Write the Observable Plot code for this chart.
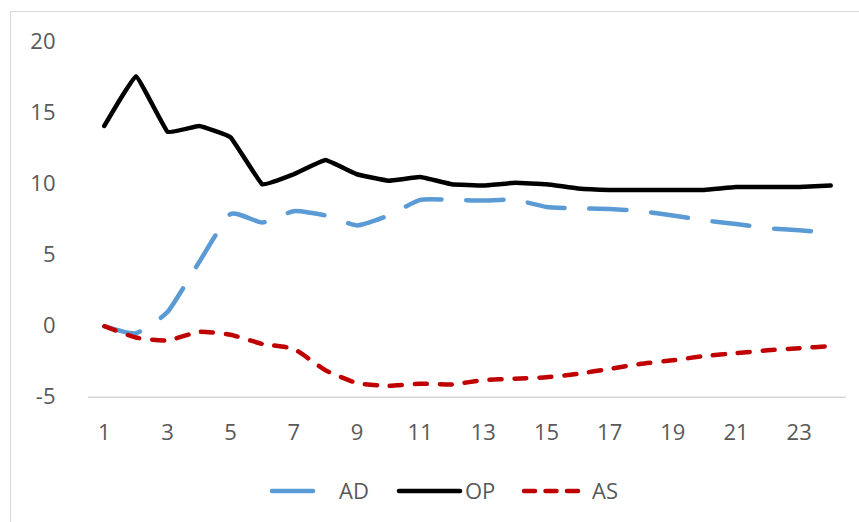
<!DOCTYPE html>
<html>
<head>
<meta charset="utf-8">
<script src="https://cdn.jsdelivr.net/npm/d3@7"></script>
<script src="https://cdn.jsdelivr.net/npm/@observablehq/plot@0.6"></script>
<style>
  html, body { margin: 0; padding: 0; background: #fff; }
  body { width: 859px; height: 522px; position: relative; overflow: hidden; font-family: "Open Sans", sans-serif; }
  #frame { position: absolute; left: 10px; top: 11px; width: 900px; height: 600px; border: 1.5px solid #d9d9d9; box-sizing: border-box; }
  #chart { position: absolute; left: 0; top: 0; }
  #legend { position: absolute; left: 0; top: 0; width: 859px; height: 522px; pointer-events: none; }
  .lg-text { position: absolute; top: 474px; font-size: 22px; color: #595959; line-height: 32px; }
</style>
</head>
<body>
<div id="frame"></div>
<div id="chart"></div>
<div id="legend"></div>
<script>
const periods = [1,2,3,4,5,6,7,8,9,10,11,12,13,14,15,16,17,18,19,20,21,22,23,24];
const xTicks = [1,3,5,7,9,11,13,15,17,19,21,23];
const yTicks = [-5,0,5,10,15,20];
const seriesNames = ["AD", "OP", "AS"];
const adValues = [0, -0.5, 1.0, 4.5, 7.9, 7.3, 8.1, 7.8, 7.1, 7.8, 8.9, 8.9, 8.85, 8.9, 8.4, 8.3, 8.25, 8.1, 7.8, 7.45, 7.2, 6.9, 6.75, 6.6];
const opValues = [14.1, 17.6, 13.7, 14.1, 13.3, 10.0, 10.7, 11.7, 10.7, 10.25, 10.5, 10.0, 9.9, 10.1, 10.0, 9.7, 9.6, 9.6, 9.6, 9.6, 9.8, 9.8, 9.8, 9.9];
const asValues = [0, -0.8, -1.0, -0.4, -0.6, -1.25, -1.6, -3.1, -4.0, -4.2, -4.05, -4.1, -3.8, -3.7, -3.6, -3.35, -3.0, -2.65, -2.4, -2.1, -1.9, -1.7, -1.55, -1.4];

const styles = {
  AD: {stroke: "#5B9BD5", dash: "37,25"},
  OP: {stroke: "#000000", dash: null},
  AS: {stroke: "#C00000", dash: "12,13"}
};

const tbl = (vals) => periods.map((p, i) => ({x: p, y: vals[i]}));
const ad = tbl(adValues), op = tbl(opValues), as = tbl(asValues);

const W = 859, H = 460;
const plot = Plot.plot({
  width: W,
  height: H,
  marginLeft: 88,
  marginRight: 13,
  marginTop: 41.7,
  marginBottom: H - 396.7,
  style: {fontFamily: "'Open Sans', sans-serif", fontSize: "22px", color: "#595959", background: "transparent"},
  x: {domain: [0.5, 24.5], ticks: xTicks, tickSize: 0, tickPadding: 27, tickFormat: d => String(d), label: null},
  y: {domain: [-5, 20], ticks: yTicks, tickSize: 0, tickPadding: 33, tickFormat: d => String(d), label: null},
  marks: [
    Plot.ruleY([-5], {stroke: "#d9d9d9", strokeWidth: 1.5}),
    Plot.line(ad, {x: "x", y: "y", stroke: styles.AD.stroke, strokeWidth: 4.5, strokeDasharray: styles.AD.dash, strokeLinecap: "round", curve: "cardinal", tension: 0.5}),
    Plot.line(op, {x: "x", y: "y", stroke: styles.OP.stroke, strokeWidth: 4.5, strokeLinecap: "round", strokeLinejoin: "round", curve: "cardinal", tension: 0.75}),
    Plot.line(as, {x: "x", y: "y", stroke: styles.AS.stroke, strokeWidth: 4.5, strokeDasharray: styles.AS.dash, strokeLinecap: "round", curve: "cardinal", tension: 0.5})
  ]
});
document.getElementById("chart").appendChild(plot);

// Legend below the plot area
const legend = document.getElementById("legend");
const svgNS = "http://www.w3.org/2000/svg";
const lsvg = document.createElementNS(svgNS, "svg");
lsvg.setAttribute("width", 859);
lsvg.setAttribute("height", 522);
lsvg.style.position = "absolute";
lsvg.style.left = "0"; lsvg.style.top = "0";
const items = [
  {name: seriesNames[0], x1: 272, x2: 313, tx: 339, dash: null},
  {name: seriesNames[1], x1: 399, x2: 460, tx: 465, dash: null},
  {name: seriesNames[2], x1: 524, x2: 582, tx: 592, dash: "11,10.5"}
];
items.forEach(it => {
  const ln = document.createElementNS(svgNS, "line");
  ln.setAttribute("x1", it.x1); ln.setAttribute("x2", it.x2);
  ln.setAttribute("y1", 491); ln.setAttribute("y2", 491);
  ln.setAttribute("stroke", styles[it.name].stroke);
  ln.setAttribute("stroke-width", 4.5);
  ln.setAttribute("stroke-linecap", "round");
  if (it.dash) ln.setAttribute("stroke-dasharray", it.dash);
  lsvg.appendChild(ln);
  const t = document.createElement("div");
  t.className = "lg-text";
  t.style.left = it.tx + "px";
  t.textContent = it.name;
  legend.appendChild(t);
});
legend.appendChild(lsvg);
</script>
</body>
</html>
